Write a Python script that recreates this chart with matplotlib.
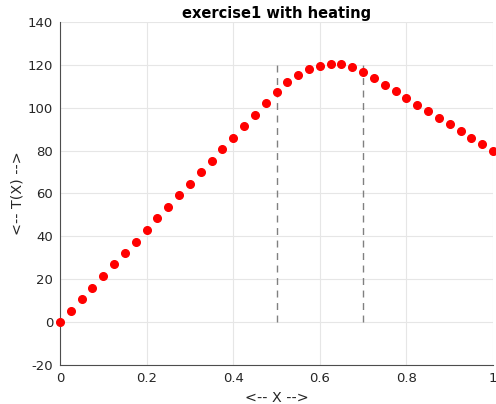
import matplotlib
matplotlib.use("Agg")
import matplotlib.pyplot as plt

plt.rcParams["axes.unicode_minus"] = False

# node positions and temperatures
x = [i * 0.025 for i in range(41)]
T = [0.0, 5.4, 10.8, 16.1, 21.5, 26.9, 32.3, 37.6, 43.0, 48.4,
     53.8, 59.1, 64.5, 69.9, 75.3, 80.6, 86.0, 91.4, 96.8, 102.1,
     107.5, 112.1, 115.3, 118.0, 119.5, 120.5, 120.2, 118.8, 116.7, 113.8,
     110.5, 107.6, 104.5, 101.5, 98.3, 95.2, 92.2, 89.2, 86.0, 83.1, 80.0]
heat_bounds = [0.5, 0.7]
heat_top = 120

fig = plt.figure(figsize=(4.96, 4.04), dpi=100)
ax = fig.add_axes([60 / 496, 1 - 365 / 404, 433 / 496, 343 / 404])

for xb in heat_bounds:
    ax.plot([xb, xb], [0, heat_top], color="#808080", lw=1.0,
            dashes=(5, 4), zorder=2)
ax.plot(x, T, "o", color="red", ms=5.5, zorder=3, clip_on=False)

ax.set_xlim(0, 1)
ax.set_ylim(-20, 140)
ax.set_xticks([0, 0.2, 0.4, 0.6, 0.8, 1])
ax.set_xticklabels(["0", "0.2", "0.4", "0.6", "0.8", "1"])
ax.set_yticks(range(-20, 141, 20))
ax.grid(True, color="#e6e6e6", lw=0.8)
ax.set_axisbelow(True)
for s in ["top", "right"]:
    ax.spines[s].set_visible(False)
for s in ["left", "bottom"]:
    ax.spines[s].set_color("#4d4d4d")
ax.tick_params(colors="#262626", labelsize=9.5, length=0, pad=5)
ax.set_xlabel("<-- X -->", fontsize=10.3, color="#262626", labelpad=4)
ax.set_ylabel("<-- T(X) -->", fontsize=10.3, color="#262626")
ax.yaxis.set_label_coords(-0.083, 0.5)
ax.set_title("exercise1 with heating", fontsize=10.5, fontweight="bold", pad=3)

fig.savefig("out.png", dpi=100)
